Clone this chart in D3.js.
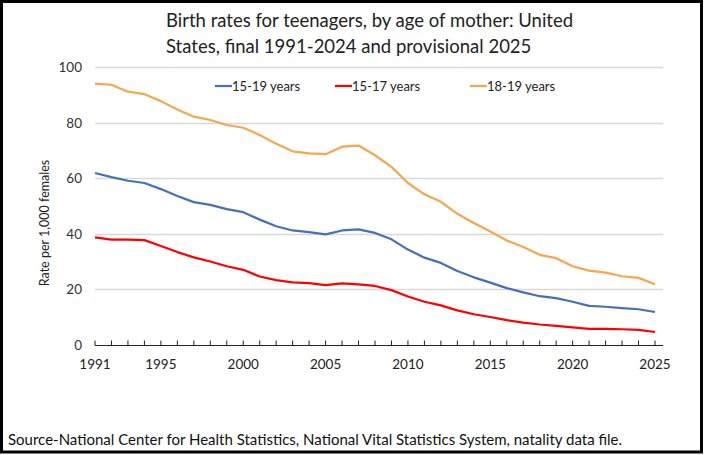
<!DOCTYPE html>
<html>
<head>
<meta charset="utf-8">
<script src="https://cdn.jsdelivr.net/npm/d3@7"></script>
<style>
  html, body { margin: 0; padding: 0; background: #fff; }
  svg { display: block; font-family: Lato, "Open Sans", sans-serif; }
</style>
</head>
<body>
<svg id="root" width="705" height="455"></svg>
<script>
const years = d3.range(1991, 2026);
const rate1519 = [61.8, 60.3, 59.0, 58.2, 56.0, 53.5, 51.3, 50.3, 48.8, 47.7,
  45.0, 42.6, 41.1, 40.5, 39.7, 41.1, 41.5, 40.2, 37.9, 34.2,
  31.3, 29.4, 26.5, 24.2, 22.3, 20.3, 18.8, 17.4, 16.7, 15.4,
  13.9, 13.6, 13.1, 12.7, 11.7];
const rate1517 = [38.6, 37.8, 37.8, 37.6, 35.5, 33.3, 31.4, 29.9, 28.2, 26.9,
  24.5, 23.2, 22.4, 22.1, 21.4, 22.0, 21.7, 21.1, 19.6, 17.3,
  15.4, 14.1, 12.3, 10.9, 9.9, 8.8, 7.9, 7.2, 6.7, 6.2,
  5.6, 5.6, 5.5, 5.3, 4.5];
const rate1819 = [94.0, 93.6, 91.1, 90.2, 87.7, 84.7, 82.1, 80.9, 79.1, 78.1,
  75.5, 72.3, 69.6, 68.9, 68.6, 71.3, 71.7, 68.2, 64.0, 58.2,
  54.1, 51.4, 47.1, 43.8, 40.7, 37.5, 35.1, 32.3, 31.1, 28.2,
  26.6, 25.9, 24.6, 24.0, 21.7];
const seriesNames = ["15-19 years", "15-17 years", "18-19 years"];
const yTicks = [0, 20, 40, 60, 80, 100];
const xLabels = [1991, 1995, 2000, 2005, 2010, 2015, 2020, 2025];
const titleLines = ["Birth rates for teenagers, by age of mother: United",
  "States, final 1991-2024 and provisional 2025"];
const yTitle = "Rate per 1,000 females";
const source = "Source-National Center for Health Statistics, National Vital Statistics System, natality data file.";

const colors = ["#4470BE", "#FF0000", "#F8A64C"];
const series = [rate1519, rate1517, rate1819].map((vals, i) => ({
  name: seriesNames[i], color: colors[i],
  values: vals.map((v, j) => ({ year: years[j], v }))
}));

const svg = d3.select("#root");

// frame
svg.append("rect")
  .attr("x", 1.5).attr("y", 1.5)
  .attr("width", 700).attr("height", 450.5)
  .attr("fill", "none").attr("stroke", "#000").attr("stroke-width", 3);

const x = d3.scaleLinear().domain([1991, 2025]).range([95, 655]);
const y = d3.scaleLinear().domain([0, 100]).range([344.5, 67]);
const plotRight = 663;

// gridlines
svg.append("g")
  .selectAll("line")
  .data(yTicks.filter(d => d > 0))
  .enter().append("line")
  .attr("x1", x(1991)).attr("x2", plotRight)
  .attr("y1", d => Math.round(y(d)) + 0.5).attr("y2", d => Math.round(y(d)) + 0.5)
  .attr("stroke", "#d9d9d9").attr("stroke-width", 1.3);

// y labels
svg.append("g")
  .selectAll("text")
  .data(yTicks)
  .enter().append("text")
  .attr("x", 82).attr("y", d => y(d) + 5)
  .attr("text-anchor", "end")
  .attr("font-size", 13.5).attr("fill", "#333")
  .text(d => d);

// x axis
const axisY = Math.round(y(0)) + 0.5;
svg.append("line")
  .attr("x1", x(1991)).attr("x2", plotRight)
  .attr("y1", axisY).attr("y2", axisY)
  .attr("stroke", "#222").attr("stroke-width", 1.2);
svg.append("g")
  .selectAll("line")
  .data(years)
  .enter().append("line")
  .attr("x1", d => x(d)).attr("x2", d => x(d))
  .attr("y1", axisY - 5).attr("y2", axisY)
  .attr("stroke", "#222").attr("stroke-width", 1);
svg.append("g")
  .selectAll("text")
  .data(xLabels)
  .enter().append("text")
  .attr("x", d => x(d)).attr("y", 369)
  .attr("text-anchor", "middle")
  .attr("font-size", 13.5).attr("fill", "#222")
  .text(d => d);

// lines
const line = d3.line().x(d => x(d.year)).y(d => y(d.v));
svg.append("g")
  .selectAll("path")
  .data(series)
  .enter().append("path")
  .attr("d", d => line(d.values))
  .attr("fill", "none")
  .attr("stroke", d => d.color)
  .attr("stroke-width", 2.2)
  .attr("stroke-linejoin", "round");

// legend
const legendX = [215, 335, 470];
const lg = svg.append("g")
  .selectAll("g")
  .data(series)
  .enter().append("g")
  .attr("transform", (d, i) => `translate(${legendX[i]}, 86)`);
lg.append("line")
  .attr("x1", 0).attr("x2", 17).attr("y1", 0).attr("y2", 0)
  .attr("stroke", d => d.color).attr("stroke-width", 2.2);
lg.append("text")
  .attr("x", 17).attr("y", 4.5)
  .attr("font-size", 13).attr("fill", "#222")
  .text(d => d.name);

// title
svg.append("g")
  .selectAll("text")
  .data(titleLines)
  .enter().append("text")
  .attr("x", 166).attr("y", (d, i) => 27 + i * 26)
  .attr("font-size", 18.5).attr("fill", "#222")
  .text(d => d);

// y title
svg.append("text")
  .attr("transform", "translate(49, 223) rotate(-90)")
  .attr("text-anchor", "middle")
  .attr("font-size", 12.5).attr("fill", "#222")
  .text(yTitle);

// source
svg.append("text")
  .attr("x", 8).attr("y", 445)
  .attr("font-size", 15).attr("fill", "#111")
  .text(source);
</script>
</body>
</html>
